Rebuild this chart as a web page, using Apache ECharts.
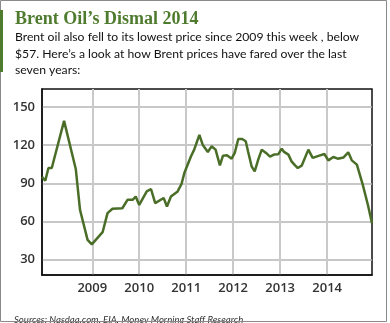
<!DOCTYPE html>
<html>
<head>
<meta charset="utf-8">
<script src="https://cdn.jsdelivr.net/npm/echarts@6.0.0/dist/echarts.min.js"></script>
<style>
html,body{margin:0;padding:0;background:#fff;}
#chart{width:390px;height:323px;}
</style>
</head>
<body>
<div id="chart"></div>
<script>
// Dates as decimal years, Brent price (USD/bbl)
const dates = [2007.93, 2008.00, 2008.067, 2008.138, 2008.40, 2008.65, 2008.74, 2008.90, 2008.99,
  2009.22, 2009.325, 2009.43, 2009.64, 2009.75, 2009.86, 2009.925,
  2010.0, 2010.16, 2010.25, 2010.34, 2010.52, 2010.59, 2010.675, 2010.817, 2010.90, 2010.96,
  2011.10, 2011.17, 2011.28, 2011.35, 2011.46, 2011.54, 2011.625, 2011.717, 2011.783, 2011.867, 2011.967,
  2012.033, 2012.108, 2012.192, 2012.267, 2012.317, 2012.392, 2012.458, 2012.533, 2012.608, 2012.70, 2012.783, 2012.867, 2012.958,
  2013.033, 2013.083, 2013.175, 2013.242, 2013.317, 2013.375, 2013.458, 2013.60, 2013.692, 2013.833, 2013.942,
  2014.025, 2014.133, 2014.225, 2014.35, 2014.45, 2014.525, 2014.633, 2014.758, 2014.867, 2014.955];
const prices = [95, 92, 102, 102, 139, 101, 69, 45.6, 42,
  51.6, 66.6, 70, 70.4, 77, 77, 79.6,
  73, 83.6, 85.5, 74.4, 78.4, 71.8, 79.6, 83.6, 89.4, 98,
  111, 116.4, 128, 120.3, 114.6, 119, 116.4, 104, 111.7, 112, 109.3,
  113.8, 124.8, 124.8, 123, 115, 103.3, 99.3, 108.5, 116.4, 113.8, 110.9, 112.5, 112.7,
  117.2, 114.6, 112.5, 107.2, 104, 102, 103.8, 116.4, 109.9, 111.7, 113,
  108, 110.6, 109.3, 110.3, 114.3, 108, 104.6, 88.9, 73.1, 58.7];
const yearTicks = [2009, 2010, 2011, 2012, 2013, 2014];
const priceTicks = [30, 60, 90, 120, 150];

const titleText = 'Brent Oil\u2019s Dismal 2014';
const subText = 'Brent oil also fell to its lowest price since 2009 this week , below\n$57. Here\u2019s a look at how Brent prices have fared over the last\nseven years:';
const sourceText = 'Sources: Nasdaq.com, EIA, Money Morning Staff Research';

const chart = echarts.init(document.getElementById('chart'), null, {renderer: 'canvas'});
chart.setOption({
  animation: false,
  backgroundColor: '#fff',
  title: [{
    text: titleText,
    subtext: subText,
    left: 10, top: 3,
    itemGap: -1,
    textStyle: {fontFamily: 'Liberation Serif', fontWeight: 'bold', fontSize: 18, color: '#4f7b2e', lineHeight: 22},
    subtextStyle: {fontFamily: 'Lato', fontSize: 12.2, color: '#111', lineHeight: 16.5}
  }, {
    text: sourceText,
    left: 9, top: 310,
    textStyle: {fontFamily: 'Lato', fontStyle: 'italic', fontWeight: 'normal', fontSize: 9.6, color: '#333'}
  }],
  graphic: [
    {type: 'rect', shape: {x: 0.5, y: 0.5, width: 386, height: 321}, style: {fill: 'none', stroke: '#8a8a8a', lineWidth: 1}, z: 100},
    {type: 'rect', shape: {x: 0, y: 10, width: 3, height: 62}, style: {fill: '#4f7b2e'}, z: 101}
  ],
  grid: {left: 42, right: 18, top: 89, bottom: 48, show: true, borderColor: '#111', borderWidth: 1.5, backgroundColor: 'transparent'},
  xAxis: {
    type: 'value', min: 2007.93, max: 2014.955,
    axisLine: {show: true, lineStyle: {color: '#111', width: 1.5}},
    axisTick: {show: false, customValues: yearTicks},
    axisLabel: {customValues: yearTicks, formatter: v => String(Math.round(v)), fontFamily: 'Open Sans', fontWeight: 600, fontSize: 13, color: '#333', margin: 7},
    splitLine: {show: true, lineStyle: {color: '#c9c9c9', width: 2}}
  },
  yAxis: {
    type: 'value', min: 18, max: 164,
    axisLine: {show: true, lineStyle: {color: '#111', width: 1.5}},
    axisTick: {show: false, customValues: priceTicks},
    axisLabel: {customValues: priceTicks, fontFamily: 'Open Sans', fontWeight: 600, fontSize: 13, color: '#333', margin: 7},
    splitLine: {show: true, lineStyle: {color: '#b5b5b5', width: 1.5}}
  },
  series: [{
    type: 'line',
    data: dates.map((d, i) => [d, prices[i]]),
    showSymbol: false,
    lineStyle: {color: '#4a6e28', width: 2.5},
    clip: true
  }]
});
</script>
</body>
</html>
